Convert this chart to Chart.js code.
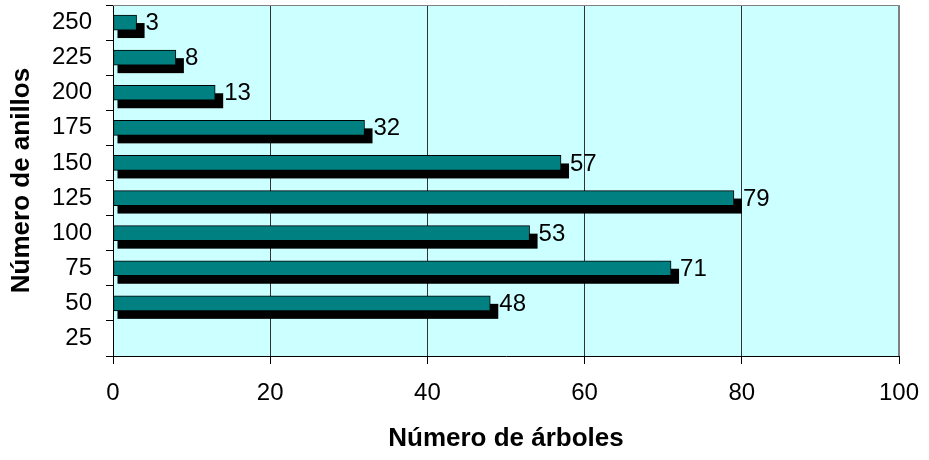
<!DOCTYPE html>
<html>
<head>
<meta charset="utf-8">
<script src="https://cdn.jsdelivr.net/npm/chart.js@4"></script>
<style>
  body { margin: 0; background: #fff; }
  #wrap { width: 929px; height: 460px; }
</style>
</head>
<body>
<div id="wrap"><canvas id="graph" width="929" height="460"></canvas></div>
<script>
// data
const anillos = ['25', '50', '75', '100', '125', '150', '175', '200', '225', '250'];
const arboles = [null, 48, 71, 53, 79, 57, 32, 13, 8, 3];
const xTicks = [0, 20, 40, 60, 80, 100];

const FONT = "'Liberation Sans', Arial, sans-serif";

// light cyan plot area + grey top/right border
const plotBg = {
    id: 'plotBg',
    beforeDraw(chart) {
        const a = chart.chartArea;
        const ctx = chart.ctx;
        ctx.save();
        ctx.fillStyle = '#CCFFFF';
        ctx.fillRect(a.left, a.top, a.right - a.left, a.bottom - a.top);
        ctx.restore();
    },
    afterDraw(chart) {
        const a = chart.chartArea;
        const ctx = chart.ctx;
        ctx.save();
        ctx.strokeStyle = '#808080';
        ctx.lineWidth = 1;
        ctx.beginPath();
        ctx.moveTo(a.left, a.top + 0.5);
        ctx.lineTo(a.right - 0.5, a.top + 0.5);
        ctx.lineTo(a.right - 0.5, a.bottom);
        ctx.stroke();
        ctx.restore();
    }
};

// black "depth" shadow behind each bar, and the value labels
const barShadow = {
    id: 'barShadow',
    beforeDatasetsDraw(chart) {
        const ctx = chart.ctx;
        const meta = chart.getDatasetMeta(0);
        ctx.save();
        ctx.fillStyle = '#000';
        meta.data.forEach((bar, i) => {
            if (arboles[i] == null) return;
            const p = bar.getProps(['x', 'y', 'base', 'height'], true);
            const top = p.y - p.height / 2 + 8;
            ctx.fillRect(p.base + 4, top, p.x + 8 - (p.base + 4), p.height);
        });
        ctx.restore();
    },
    afterDatasetsDraw(chart) {
        const ctx = chart.ctx;
        const meta = chart.getDatasetMeta(0);
        ctx.save();
        ctx.fillStyle = '#000';
        ctx.font = '24px ' + FONT;
        ctx.textBaseline = 'middle';
        ctx.textAlign = 'left';
        meta.data.forEach((bar, i) => {
            if (arboles[i] == null) return;
            const p = bar.getProps(['x', 'y'], true);
            ctx.fillText(String(arboles[i]), p.x + 9, p.y + 1);
        });
        ctx.restore();
    }
};

new Chart(document.getElementById('graph').getContext('2d'), {
    type: 'bar',
    data: {
        labels: anillos,
        datasets: [{
            data: arboles,
            backgroundColor: '#008080',
            borderColor: '#000',
            borderWidth: 1,
            borderSkipped: false,
            barThickness: 15
        }]
    },
    options: {
        indexAxis: 'y',
        responsive: false,
        animation: false,
        layout: { padding: { top: 5, right: 30, bottom: 0, left: 0 } },
        plugins: {
            legend: { display: false },
            tooltip: { enabled: false }
        },
        scales: {
            x: {
                min: 0,
                max: 100,
                afterBuildTicks: (scale) => { scale.ticks = xTicks.map(v => ({ value: v })); },
                afterFit: (scale) => {
                    scale.height = 104;
                    scale.paddingLeft = 0;
                    scale.paddingRight = 0;
                },
                border: { color: '#000', width: 1 },
                grid: {
                    color: (c) => (c.tick && c.tick.value === 100) ? '#808080' : '#333',
                    tickColor: '#000',
                    tickLength: 8,
                    lineWidth: 1
                },
                ticks: {
                    color: '#000',
                    padding: 15,
                    maxRotation: 0,
                    font: { family: FONT, size: 24 }
                },
                title: {
                    display: true,
                    text: 'Número de árboles',
                    color: '#000',
                    padding: { top: 4, bottom: 6 },
                    font: { family: FONT, size: 26, weight: 'bold' }
                }
            },
            y: {
                reverse: true,
                afterFit: (scale) => {
                    scale.width = 113;
                    scale.paddingTop = 0;
                    scale.paddingBottom = 0;
                },
                border: { color: '#000', width: 1 },
                grid: {
                    drawOnChartArea: false,
                    tickColor: '#000',
                    tickLength: 7
                },
                ticks: {
                    color: '#000',
                    padding: 14,
                    font: { family: FONT, size: 24 }
                },
                title: {
                    display: true,
                    text: 'Número de anillos',
                    color: '#000',
                    padding: { top: 6, bottom: 4 },
                    font: { family: FONT, size: 26, weight: 'bold' }
                }
            }
        }
    },
    plugins: [plotBg, barShadow]
});
</script>
</body>
</html>
